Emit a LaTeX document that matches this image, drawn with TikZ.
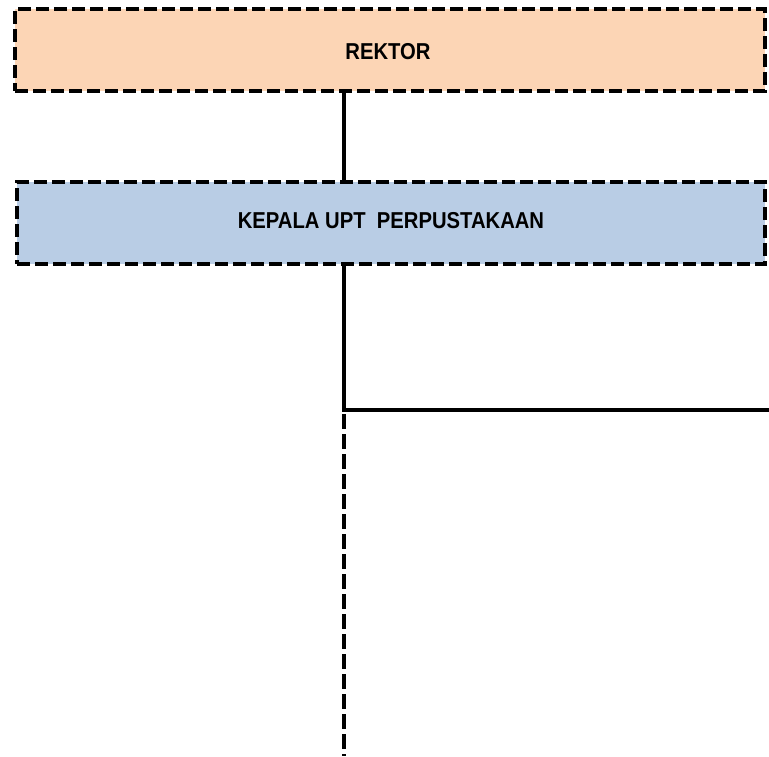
\documentclass[tikz,border=0pt]{standalone}
\usepackage{fontspec}
\setmainfont{Liberation Sans}[FakeStretch=0.88]
\definecolor{peach}{HTML}{FCD5B5}
\definecolor{paleblue}{HTML}{B9CDE5}
\begin{document}
\begin{tikzpicture}[x=1pt,y=-1pt,
  orgbox/.style={draw=black,line width=4pt,dash pattern=on 13pt off 5pt,
    minimum width=750pt,minimum height=82pt,inner sep=0pt},
  label/.style={font=\fontsize{23}{27}\selectfont\bfseries,inner sep=0pt},
  link/.style={line width=4pt},
  dlink/.style={line width=4pt,dash pattern=on 15pt off 5pt}]
\useasboundingbox (0,0) rectangle (769,756);
\node[orgbox,fill=peach] (rektor) at (390,50) {};
\node[label] at (388,52) (rektortext) {REKTOR};
\node[orgbox,fill=paleblue,minimum width=748pt] (kepala) at (391,223) {};
\node[label] at (391,221) (kepalatext) {KEPALA UPT\ \ PERPUSTAKAAN};
\coordinate (j) at (344,410);
\coordinate (r) at (769,410);
\coordinate (b) at (344,756);
\draw[link] (rektor.south -| j) -- (kepala.north -| j);
\draw[link] (kepala.south -| j) -- (j) -- (r);
\draw[dlink] (j) ++(0,4) -- (b);
\end{tikzpicture}
\end{document}
